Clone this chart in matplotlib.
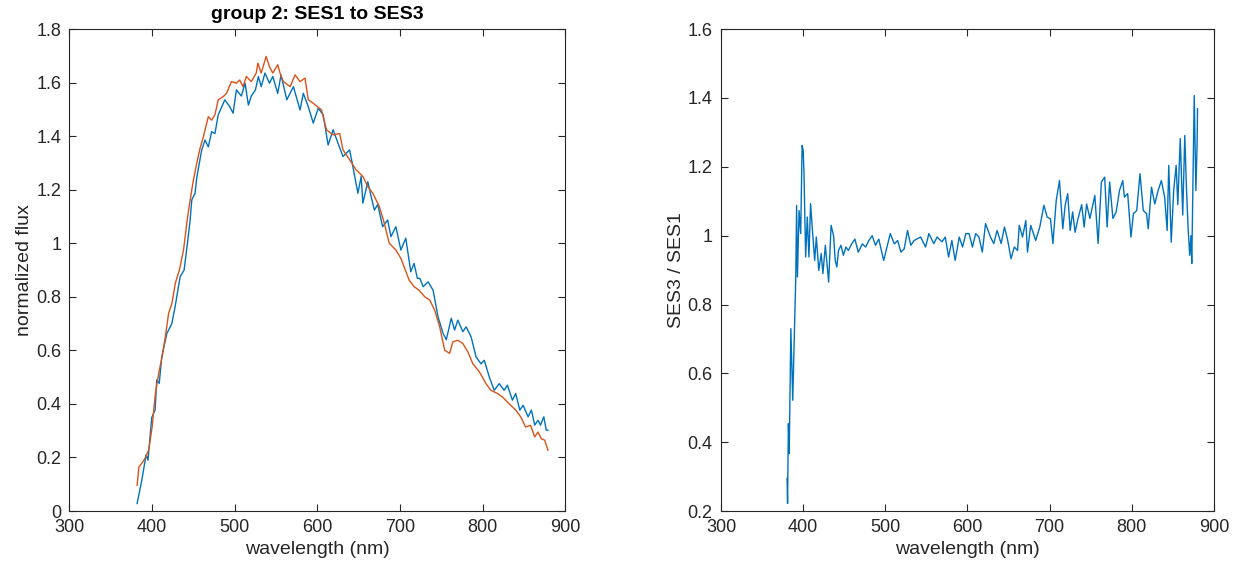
import matplotlib
matplotlib.use('Agg')
import matplotlib.pyplot as plt

# normalized spectra, group 2
wl_ses1 = [381.8, 387.5, 392.7, 395, 399.6, 403.6, 405.6, 408.6, 411.7, 417.8, 423.8, 427.8, 429.8,
           433.9, 438.7, 442.7, 446, 448, 452, 454, 460, 464, 468, 472, 476, 480, 488, 494, 498, 502,
           508, 512.5, 516.5, 520, 525, 528.6, 532, 536.6, 542, 546, 552, 556, 563, 571, 579, 583,
           589, 595, 601, 607, 613, 619, 625, 631, 639, 643, 649, 653, 655, 661, 665, 669, 673, 679,
           685, 689, 695, 701, 707, 713, 717, 721, 724, 728, 734, 740, 746, 752, 756, 762, 766, 770,
           776, 780, 786, 792, 798, 802, 808, 814, 820, 826, 830, 836, 840, 845, 849, 855, 859, 863,
           867, 870, 874, 877, 879]
flux_ses1 = [0.028, 0.115, 0.21, 0.19, 0.35, 0.377, 0.49, 0.477, 0.576, 0.663, 0.70, 0.763, 0.80,
             0.875, 0.90, 1.0, 1.087, 1.162, 1.187, 1.245, 1.349, 1.386, 1.36, 1.417, 1.41, 1.48, 1.536,
             1.51, 1.486, 1.573, 1.55, 1.598, 1.516, 1.55, 1.573, 1.623, 1.585, 1.636, 1.598, 1.623,
             1.56, 1.629, 1.536, 1.585, 1.498, 1.56, 1.51, 1.449, 1.504, 1.48, 1.367, 1.424, 1.374,
             1.324, 1.349, 1.286, 1.187, 1.25, 1.15, 1.23, 1.175, 1.124, 1.145, 1.062, 1.087, 1.025,
             1.062, 0.975, 1.019, 0.894, 0.925, 0.869, 0.869, 0.838, 0.856, 0.825, 0.726, 0.664, 0.64,
             0.72, 0.676, 0.713, 0.67, 0.688, 0.651, 0.576, 0.55, 0.563, 0.501, 0.451, 0.476, 0.451,
             0.47, 0.414, 0.439, 0.377, 0.395, 0.352, 0.377, 0.321, 0.339, 0.321, 0.352, 0.302, 0.302]

wl_ses3 = [381.8, 384, 388, 392, 396, 400, 404, 408, 412, 416, 420, 424, 428, 433, 438, 443, 448,
           450, 454, 458, 462, 468, 472, 476, 480, 486, 490, 496, 502, 506, 510, 514, 520, 526, 528,
           532, 538, 542, 546, 552, 556, 559, 567, 573, 579, 585, 589, 595, 605, 611, 619, 627, 631,
           639, 647, 655, 661, 667, 675, 681, 687, 695, 701, 705, 711, 717, 723, 730, 736, 742, 748,
           754, 760, 764, 770, 776, 782, 788, 796, 804, 810, 818, 824, 832, 840, 846, 852, 858, 863,
           867, 871, 875, 879]
flux_ses3 = [0.096, 0.165, 0.18, 0.2, 0.23, 0.314, 0.44, 0.515, 0.576, 0.651, 0.739, 0.776, 0.85,
             0.90, 0.975, 1.10, 1.2, 1.237, 1.299, 1.355, 1.398, 1.473, 1.46, 1.48, 1.536, 1.548, 1.56,
             1.604, 1.598, 1.61, 1.585, 1.623, 1.604, 1.636, 1.673, 1.636, 1.698, 1.66, 1.636, 1.667,
             1.623, 1.604, 1.585, 1.629, 1.604, 1.617, 1.536, 1.523, 1.498, 1.424, 1.405, 1.41, 1.349,
             1.312, 1.274, 1.25, 1.212, 1.187, 1.137, 1.075, 1.0, 0.975, 0.944, 0.912, 0.863, 0.838,
             0.825, 0.80, 0.788, 0.75, 0.688, 0.601, 0.589, 0.632, 0.638, 0.626, 0.595, 0.551, 0.52,
             0.476, 0.451, 0.439, 0.426, 0.401, 0.377, 0.352, 0.314, 0.32, 0.277, 0.295, 0.27, 0.265,
             0.227]

# ratio SES3 / SES1
wl_ratio = [380.4, 381, 382, 383, 385, 387.3, 391, 392, 393, 395, 397, 398.7, 400, 401, 403, 405,
            407, 409, 411, 414, 416, 419, 422, 424, 427, 431, 434, 437, 439, 441, 443, 446, 449, 452,
            455, 459, 463, 467, 472, 476, 480, 484, 488, 492, 498, 502, 506, 511, 515, 519, 523, 527,
            531, 535, 543, 549, 553, 559, 563, 569, 573, 577, 581, 585, 590, 594, 598, 602, 606, 610,
            614, 618, 622, 628, 632, 636, 641, 645, 649, 653, 657, 661, 663, 667, 671, 673, 677, 683,
            688, 693, 697, 701, 704, 708, 712, 716, 719, 722, 725, 728, 731, 734, 739, 742, 745, 749,
            755, 759, 763, 767, 770, 773, 777, 781, 785, 789, 791, 795, 799, 802, 806, 810, 814, 818,
            820, 824, 828, 832, 836, 840, 843, 845, 848, 851, 854, 856, 859, 862, 864.5, 866.5, 868.5,
            870.5, 872, 873, 876, 878, 879.5, 880]
ratio = [0.295, 0.222, 0.454, 0.367, 0.73, 0.522, 0.88, 1.088, 0.88, 1.073, 1.006, 1.262, 1.248,
         1.18, 0.938, 1.054, 0.938, 1.093, 1.025, 0.928, 0.996, 0.899, 0.948, 0.89, 0.972, 0.865,
         1.03, 1.0, 0.928, 0.909, 0.957, 0.972, 0.943, 0.967, 0.957, 0.976, 0.99, 0.952, 0.976, 0.967,
         0.986, 1.0, 0.972, 0.99, 0.928, 0.967, 1.006, 0.976, 0.986, 0.952, 0.962, 1.015, 0.972,
         0.986, 0.996, 0.967, 1.006, 0.977, 0.996, 0.982, 0.996, 0.938, 0.986, 0.928, 0.996, 0.967,
         1.006, 1.006, 0.967, 1.006, 0.996, 0.952, 1.035, 0.996, 0.977, 1.015, 0.977, 1.025, 0.986,
         0.933, 0.967, 0.957, 1.03, 0.996, 1.044, 0.952, 1.03, 0.986, 1.025, 1.088, 1.054, 1.049,
         0.977, 1.102, 1.16, 1.02, 1.09, 1.122, 1.015, 1.069, 1.01, 1.044, 1.09, 1.025, 1.092, 1.05,
         1.117, 0.977, 1.156, 1.17, 1.025, 1.156, 1.05, 1.069, 1.131, 1.16, 1.112, 1.122, 0.996,
         1.064, 1.073, 1.18, 1.073, 1.064, 1.02, 1.141, 1.092, 1.131, 1.16, 1.112, 1.015, 1.204,
         0.981, 1.131, 1.204, 1.09, 1.282, 1.06, 1.291, 1.141, 1.025, 0.943, 1.0, 0.919, 1.407,
         1.131, 1.267, 1.369]

blue = '#0072BD'
orange = '#D95319'
axcol = '#262626'

plt.rcParams['font.family'] = ['Liberation Sans', 'DejaVu Sans']
fig = plt.figure(figsize=(12.41, 5.71), dpi=100)

ax1 = fig.add_axes([0.0560, 0.105, 0.3995, 0.844])
ax1.plot(wl_ses1, flux_ses1, color=blue, lw=1.0)
ax1.plot(wl_ses3, flux_ses3, color=orange, lw=1.0)
ax1.set_xlim(300, 900)
ax1.set_ylim(0, 1.8)
ax1.set_xticks(range(300, 901, 100))
ax1.set_yticks([0, 0.2, 0.4, 0.6, 0.8, 1, 1.2, 1.4, 1.6, 1.8])
ax1.set_yticklabels(['0', '0.2', '0.4', '0.6', '0.8', '1', '1.2', '1.4', '1.6', '1.8'])
ax1.set_xlabel('wavelength (nm)', fontsize=14, color=axcol, labelpad=3)
ax1.set_ylabel('normalized flux', fontsize=14, color=axcol, labelpad=2)
ax1.set_title('group 2: SES1 to SES3', fontsize=14, fontweight='bold', pad=7)

ax2 = fig.add_axes([0.5810, 0.105, 0.3972, 0.844])
ax2.plot(wl_ratio, ratio, color=blue, lw=1.0)
ax2.set_xlim(300, 900)
ax2.set_ylim(0.2, 1.6)
ax2.set_xticks(range(300, 901, 100))
ax2.set_yticks([0.2, 0.4, 0.6, 0.8, 1, 1.2, 1.4, 1.6])
ax2.set_yticklabels(['0.2', '0.4', '0.6', '0.8', '1', '1.2', '1.4', '1.6'])
ax2.set_xlabel('wavelength (nm)', fontsize=14, color=axcol, labelpad=3)
ax2.set_ylabel('SES3 / SES1', fontsize=14, color=axcol, labelpad=2)

for ax in (ax1, ax2):
    for sp in ax.spines.values():
        sp.set_color(axcol)
        sp.set_linewidth(0.8)
    ax.tick_params(direction='in', length=5, width=0.8, colors=axcol, labelsize=13,
                   top=True, right=True)
    ax.tick_params(axis='x', pad=6)
    ax.tick_params(axis='y', pad=6)

fig.savefig('out.png', dpi=100)
